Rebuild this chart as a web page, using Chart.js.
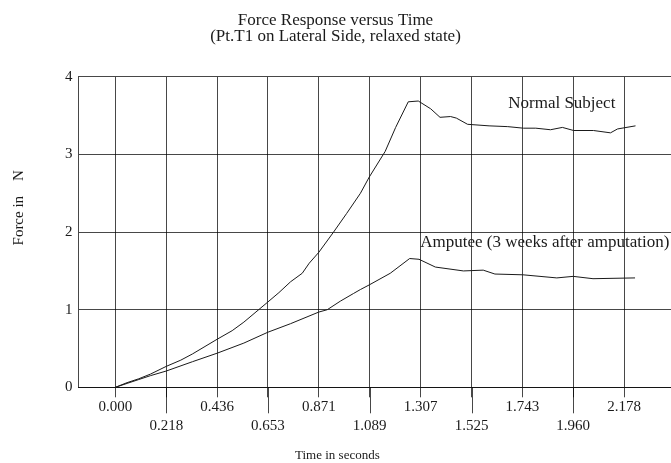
<!DOCTYPE html>
<html lang="en">
<head>
  <meta charset="UTF-8">
  <title>Force Response versus Time</title>
  <style>
    body { margin: 0; background: #fff; }
    canvas { display: block; }
  </style>
  <script src="https://cdn.jsdelivr.net/npm/chart.js"></script>
</head>
<body>
  <canvas id="forceChart" width="671" height="463"></canvas>
  <script>
    // Values
    const TICK_LABELS = ['0.000', '0.218', '0.436', '0.653', '0.871', '1.089', '1.307', '1.525', '1.743', '1.960', '2.178'];

    const normalTime  = [0, 0.05, 0.10, 0.15, 0.218, 0.28, 0.33, 0.436, 0.50, 0.55, 0.653, 0.70, 0.75, 0.80, 0.83, 0.871, 0.934, 0.99, 1.049, 1.087, 1.155, 1.20, 1.254, 1.297, 1.35, 1.39, 1.435, 1.46, 1.508, 1.60, 1.68, 1.747, 1.80, 1.863, 1.914, 1.962, 2.047, 2.12, 2.15, 2.227];
    const normalForce = [0, 0.06, 0.11, 0.17, 0.27, 0.35, 0.43, 0.62, 0.73, 0.84, 1.10, 1.22, 1.36, 1.47, 1.60, 1.74, 2.00, 2.24, 2.50, 2.71, 3.04, 3.35, 3.68, 3.69, 3.59, 3.48, 3.49, 3.47, 3.39, 3.37, 3.36, 3.34, 3.34, 3.32, 3.35, 3.31, 3.31, 3.28, 3.33, 3.37];

    const amputeeTime  = [0, 0.05, 0.10, 0.15, 0.218, 0.33, 0.436, 0.55, 0.653, 0.75, 0.871, 0.907, 0.963, 1.02, 1.049, 1.087, 1.177, 1.26, 1.30, 1.37, 1.49, 1.575, 1.625, 1.745, 1.89, 1.96, 2.045, 2.225];
    const amputeeForce = [0, 0.05, 0.10, 0.15, 0.21, 0.33, 0.44, 0.57, 0.71, 0.82, 0.97, 1.00, 1.11, 1.21, 1.26, 1.32, 1.47, 1.66, 1.65, 1.55, 1.50, 1.51, 1.46, 1.45, 1.41, 1.43, 1.40, 1.41];

    const SERIF = '"Liberation Serif", "Times New Roman", serif';
    const INK = '#1a1a1a';
    const GRID = 'rgba(0,0,0,0.72)';

    const tickValues = TICK_LABELS.map(Number);
    const toPoints = (xs, ys) => xs.map((x, i) => ({ x, y: ys[i] }));

    // curve labels written inside the plot (data units)
    const notes = [
      { text: 'Normal Subject', x: 1.682, y: 3.66 },
      { text: 'Amputee (3 weeks after amputation)', x: 1.305, y: 1.86 }
    ];

    const extras = {
      id: 'extras',
      afterDraw(chart) {
        const { ctx, chartArea, scales: { x, y } } = chart;
        ctx.save();
        // ticks for the lower label row are longer
        ctx.strokeStyle = GRID;
        ctx.lineWidth = 1;
        tickValues.forEach((v, i) => {
          if (i % 2 === 0) return;
          const px = Math.round(x.getPixelForValue(v)) + 0.5;
          ctx.beginPath();
          ctx.moveTo(px, chartArea.bottom);
          ctx.lineTo(px, chartArea.bottom + 26);
          ctx.stroke();
        });
        ctx.fillStyle = INK;
        ctx.font = '17px ' + SERIF;
        ctx.textBaseline = 'middle';
        notes.forEach(n => ctx.fillText(n.text, x.getPixelForValue(n.x), y.getPixelForValue(n.y)));
        ctx.restore();
      }
    };

    new Chart(document.getElementById('forceChart'), {
      type: 'line',
      data: {
        datasets: [
          { label: 'Normal Subject', data: toPoints(normalTime, normalForce) },
          { label: 'Amputee (3 weeks after amputation)', data: toPoints(amputeeTime, amputeeForce) }
        ]
      },
      options: {
        responsive: false,
        animation: false,
        layout: { padding: 0 },
        elements: {
          line: { borderColor: INK, borderWidth: 1, tension: 0 },
          point: { radius: 0 }
        },
        plugins: {
          legend: { display: false },
          tooltip: { enabled: false },
          title: {
            display: true,
            text: ['Force Response versus Time', '(Pt.T1 on Lateral Side, relaxed state)'],
            color: INK,
            font: { family: SERIF, size: 17, weight: 'normal', lineHeight: 0.97 },
            padding: { top: 12, bottom: 32 }
          }
        },
        scales: {
          x: {
            type: 'linear',
            min: -0.158,
            max: 2.379,
            afterBuildTicks: s => { s.ticks = tickValues.map(v => ({ value: v })); },
            ticks: {
              autoSkip: false,
              maxRotation: 0,
              padding: 0,
              color: INK,
              font: { family: SERIF, size: 15, lineHeight: 1.27 },
              callback: (v, i) => i % 2 ? ['', TICK_LABELS[i]] : TICK_LABELS[i]
            },
            grid: { color: GRID, tickColor: GRID, tickLength: 10 },
            border: { color: GRID },
            title: {
              display: true,
              text: 'Time in seconds                       ',
              color: INK,
              font: { family: SERIF, size: 13, lineHeight: 1.2 },
              padding: { top: 12, bottom: 0 }
            }
          },
          y: {
            min: 0,
            max: 4,
            ticks: { stepSize: 1, padding: 6, color: INK, font: { family: SERIF, size: 15 } },
            grid: { color: GRID, drawTicks: false },
            border: { color: GRID },
            title: {
              display: true,
              text: '             Force in    N',
              color: INK,
              font: { family: SERIF, size: 15, lineHeight: 1.2 },
              padding: { top: 10, bottom: 31 }
            }
          }
        }
      },
      plugins: [extras]
    });
  </script>
</body>
</html>
